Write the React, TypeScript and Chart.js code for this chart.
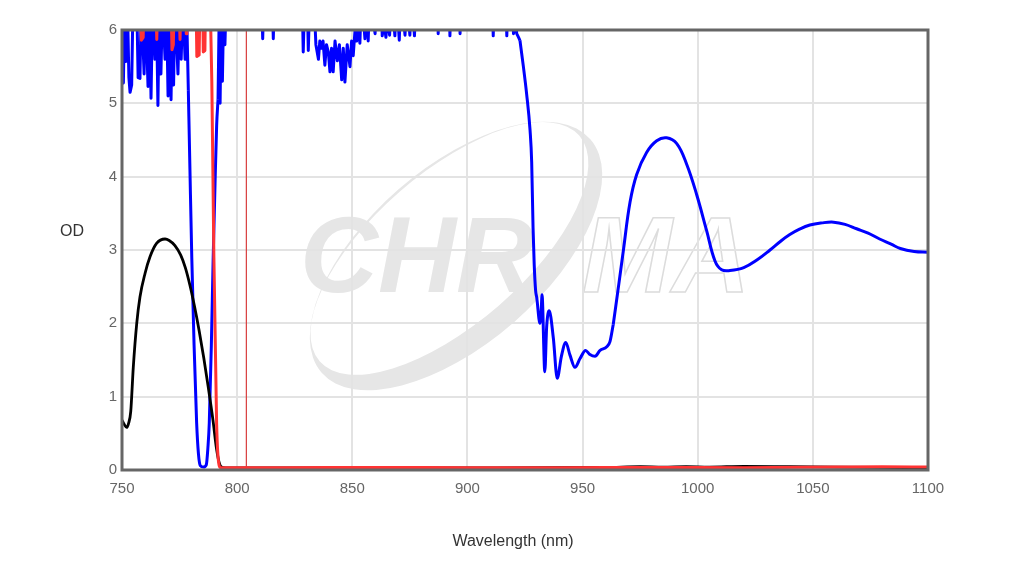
import React, { useEffect, useRef } from 'react';
import { Chart, registerables } from 'chart.js';

Chart.register(...registerables);

const xTickValues = [750, 800, 850, 900, 950, 1000, 1050, 1100];
const yTickValues = [0, 1, 2, 3, 4, 5, 6];
const xTitle = 'Wavelength (nm)';
const yTitle = 'OD';

const laserLine: [number, number][] = [[804, 0], [804, 6]];

const blackSeries: [number, number][] = [
  [750.0, 0.68], [751.0, 0.62], [752.0, 0.58], [752.8, 0.63], [753.8, 0.8], [754.9, 1.4],
  [756.4, 2.0], [757.8, 2.36], [760.0, 2.68], [762.2, 2.91], [765.0, 3.09], [768.7, 3.15],
  [770.5, 3.13], [773.0, 3.06], [775.5, 2.93], [777.5, 2.76], [779.5, 2.52], [781.5, 2.23],
  [783.5, 1.9], [785.5, 1.53], [787.5, 1.12], [789.5, 0.68], [791.0, 0.3], [792.2, 0.1],
  [793.2, 0.04], [795.0, 0.03], [850.0, 0.03], [900.0, 0.03], [960.0, 0.035], [975.0, 0.045],
  [985.0, 0.04], [995.0, 0.045], [1005.0, 0.04], [1020.0, 0.05], [1040.0, 0.045], [1060.0, 0.04],
  [1080.0, 0.035], [1100.0, 0.03],
];

const redNoise: [number, number][] = [
  [750.0, 6.5], [758.0, 6.5], [758.4, 5.86], [759.2, 5.9], [759.6, 6.5], [764.6, 6.5],
  [765.1, 5.87], [765.6, 6.5], [771.2, 6.5], [771.7, 5.73], [772.3, 5.8], [772.7, 6.5],
  [774.6, 6.5], [775.2, 5.87], [775.7, 6.5], [777.6, 6.5], [777.9, 5.95], [778.2, 6.5],
  [782.1, 6.5], [782.5, 5.64], [783.5, 5.66], [783.9, 6.5], [785.0, 6.5], [785.3, 5.7],
  [786.0, 5.72], [786.3, 6.5], [788.2, 6.5],
];

const redTail: [number, number][] = [
  [788.2, 6.5], [789.0, 5.3], [789.9, 2.9], [791.1, 0.62], [792.2, 0.06], [793.0, 0.03],
  [820.0, 0.03], [860.0, 0.035], [900.0, 0.03], [940.0, 0.03], [980.0, 0.035], [1020.0, 0.03],
  [1060.0, 0.04], [1080.0, 0.045], [1100.0, 0.04],
];

const blueNoiseLow: [number, number][] = [
  [750.0, 5.3], [750.6, 5.28], [751.2, 6.4], [751.7, 5.57], [752.3, 6.4], [753.0, 5.35],
  [753.5, 5.15], [754.2, 5.25], [754.8, 6.4], [756.4, 6.4], [757.0, 5.35], [757.8, 5.34],
  [758.4, 6.4], [759.6, 5.4], [760.2, 6.4], [761.3, 5.23], [761.9, 6.4], [762.6, 5.07],
  [763.3, 6.4], [764.3, 5.6], [764.9, 6.4], [765.6, 4.97], [766.2, 6.4], [766.9, 5.4],
  [767.6, 6.4], [768.7, 5.6], [769.3, 6.4], [770.0, 5.1], [770.6, 6.4], [771.3, 5.05],
  [771.9, 6.3], [772.4, 5.25], [773.0, 6.4], [774.3, 5.4], [775.0, 6.4], [775.7, 5.6],
  [776.4, 6.4], [777.4, 5.6], [778.1, 6.2], [778.8, 5.18],
];

const blueNotch: [number, number][] = [
  [778.8, 5.18], [779.5, 4.1], [780.3, 2.9], [781.3, 1.7], [782.4, 0.65], [783.2, 0.22],
  [784.0, 0.06], [785.4, 0.04], [786.6, 0.07], [787.3, 0.3], [787.9, 0.64], [788.8, 1.7],
  [789.6, 2.9], [790.4, 3.9], [791.1, 4.7], [791.7, 5.05],
];

const blueNoiseHigh: [number, number][] = [
  [791.7, 5.05], [792.2, 6.2], [792.6, 5.0], [793.1, 6.3], [793.6, 5.3], [794.2, 6.4],
  [794.7, 5.8], [795.3, 6.5], [810.6, 6.5], [811.1, 5.88], [811.6, 6.5], [815.2, 6.5],
  [815.7, 5.88], [816.2, 6.5], [828.2, 6.5], [828.7, 5.7], [829.4, 6.5], [830.4, 6.5],
  [830.9, 5.72], [831.6, 6.5], [833.5, 6.3], [834.2, 5.8], [835.3, 5.6], [835.9, 5.85],
  [836.6, 5.75], [837.3, 5.85], [838.1, 5.52], [838.8, 5.8], [839.6, 5.7], [840.3, 5.43],
  [841.0, 5.75], [841.7, 5.43], [842.5, 5.85], [843.5, 5.58], [844.4, 5.8], [845.4, 5.32],
  [846.1, 5.75], [846.8, 5.29], [847.8, 5.8], [849.0, 5.5], [849.7, 5.85], [850.4, 5.65],
  [851.2, 6.0], [851.9, 5.85], [852.6, 6.1], [853.3, 5.82], [854.0, 6.5], [855.5, 5.88],
  [856.2, 6.5], [856.9, 5.85], [857.6, 6.5], [859.9, 5.95], [860.5, 6.5], [862.5, 6.5],
  [863.0, 5.92], [863.8, 6.1], [864.6, 5.9], [865.4, 6.2], [866.2, 5.93], [867.0, 6.5],
  [868.5, 5.92], [869.2, 6.5], [870.4, 5.86], [871.1, 6.5], [872.9, 5.93], [873.6, 6.5],
  [875.0, 5.93], [875.7, 6.5], [877.0, 5.92], [877.7, 6.5], [887.0, 6.5], [887.3, 5.95],
  [887.8, 6.5], [892.0, 6.5], [892.4, 5.92], [892.9, 6.5], [896.4, 6.5], [896.8, 5.95],
  [897.3, 6.5], [910.8, 6.5], [911.2, 5.92], [911.7, 6.5], [916.6, 6.5], [917.1, 5.92],
  [917.6, 6.5], [919.5, 6.5], [920.0, 5.95], [920.6, 6.2], [921.4, 5.95], [922.2, 5.9],
  [922.8, 5.86],
];

const blueDrop: [number, number][] = [
  [922.8, 5.86], [924.3, 5.5], [925.7, 5.13], [927.2, 4.63], [927.9, 4.2], [928.5, 3.3],
  [929.0, 2.8], [929.6, 2.45], [930.1, 2.35], [931.5, 2.0], [932.0, 2.15], [932.4, 2.39],
  [933.6, 1.34], [934.4, 1.95], [935.5, 2.17], [937.3, 1.8], [939.0, 1.25], [940.8, 1.55],
  [942.7, 1.74], [944.5, 1.57], [946.7, 1.4], [948.9, 1.52], [951.3, 1.63], [953.0, 1.58],
  [955.4, 1.55], [957.6, 1.63], [960.5, 1.68], [961.9, 1.75], [963.3, 1.98],
];

const blueWave: [number, number][] = [
  [963.3, 1.98], [965.5, 2.48], [967.7, 2.99], [970.6, 3.65], [973.5, 4.03], [977.8, 4.33],
  [982.2, 4.49], [986.5, 4.53], [990.9, 4.45], [995.2, 4.17], [999.5, 3.76], [1003.9, 3.26],
  [1007.5, 2.85], [1010.4, 2.73], [1014.0, 2.72], [1020.0, 2.76], [1026.0, 2.87], [1031.4, 3.0],
  [1036.0, 3.12], [1040.0, 3.21], [1044.0, 3.28], [1048.7, 3.34], [1054.0, 3.37], [1059.0, 3.38],
  [1064.0, 3.35], [1069.0, 3.29], [1074.0, 3.23], [1079.0, 3.15], [1084.0, 3.08], [1088.0, 3.02],
  [1094.0, 2.98], [1100.0, 2.97],
];

const FONT = "'Liberation Sans', Arial, sans-serif";

const toPoints = (s: [number, number][]) => s.map(([x, y]) => ({ x, y }));

const decorPlugin = {
  id: 'decor',
  beforeDraw(chart: any) {
    const { ctx, chartArea: a } = chart;
    ctx.save();
    ctx.beginPath();
    ctx.rect(a.left, a.top, a.right - a.left, a.bottom - a.top);
    ctx.clip();
    const rot = (-41 * Math.PI) / 180;
    const cx = 456, cy = 256;
    const ux = -Math.sin(rot), uy = Math.cos(rot);
    const icx = cx - 10 * ux, icy = cy - 10 * uy;
    ctx.fillStyle = '#e6e6e6';
    ctx.beginPath();
    ctx.moveTo(cx + 178 * Math.cos(rot), cy + 178 * Math.sin(rot));
    ctx.ellipse(cx, cy, 178, 88, rot, 0, Math.PI * 2);
    ctx.moveTo(icx + 172 * Math.cos(rot), icy + 172 * Math.sin(rot));
    ctx.ellipse(icx, icy, 172, 75.5, rot, 0, Math.PI * 2);
    ctx.fill('evenodd');
    ctx.font = `italic bold 108px ${FONT}`;
    ctx.textBaseline = 'alphabetic';
    ctx.textAlign = 'left';
    ctx.fillText('CHR', 300, 292);
    ctx.strokeStyle = '#dcdcdc';
    ctx.lineWidth = 1.5;
    ctx.strokeText('MA', 582, 292);
    ctx.restore();
  },
  afterDatasetsDraw(chart: any) {
    const { ctx, chartArea: a } = chart;
    ctx.save();
    ctx.strokeStyle = '#666666';
    ctx.lineWidth = 3;
    ctx.strokeRect(a.left, a.top, a.right - a.left, a.bottom - a.top);
    ctx.restore();
  },
  afterDraw(chart: any) {
    const { ctx } = chart;
    ctx.save();
    ctx.font = `16px ${FONT}`;
    ctx.fillStyle = '#333333';
    ctx.textAlign = 'center';
    ctx.textBaseline = 'middle';
    ctx.fillText(yTitle, 72, 232);
    ctx.fillText(xTitle, 513, 542);
    ctx.restore();
  },
};

export default function App() {
  const ref = useRef<HTMLCanvasElement | null>(null);
  useEffect(() => {
    if (!ref.current) return;
    const line = (data: [number, number][], color: string, width: number, mode: 'sharp' | 'monotone' | 'spline') => ({
      data: toPoints(data),
      borderColor: color,
      backgroundColor: color,
      borderWidth: width,
      pointRadius: 0,
      fill: false,
      cubicInterpolationMode: mode === 'monotone' ? 'monotone' : 'default',
      tension: mode === 'sharp' ? 0 : 0.4,
      borderJoinStyle: 'round',
    });
    const RED = '#ff3333';
    const BLUE = '#0000ff';
    const chart = new Chart(ref.current, {
      type: 'line',
      data: {
        datasets: [
          line(redNoise, RED, 3, 'sharp'),
          line(redTail, RED, 3, 'monotone'),
          line(laserLine, '#d83c3c', 1.2, 'sharp'),
          line(blackSeries, '#000000', 2.8, 'monotone'),
          line(blueNoiseLow, BLUE, 3, 'sharp'),
          line(blueNotch, BLUE, 3, 'monotone'),
          line(blueNoiseHigh, BLUE, 3, 'sharp'),
          line(blueDrop, BLUE, 3, 'monotone'),
          line(blueWave, BLUE, 3, 'spline'),
        ] as any,
      },
      options: {
        animation: false,
        responsive: false,
        devicePixelRatio: 1,
        layout: { padding: { left: 0, right: 97, top: 30, bottom: 0 } },
        plugins: { legend: { display: false }, tooltip: { enabled: false } },
        scales: {
          x: {
            type: 'linear',
            min: 750,
            max: 1100,
            afterBuildTicks: (scale: any) => {
              scale.ticks = xTickValues.map((v) => ({ value: v }));
            },
            afterFit: (scale: any) => {
              scale.height = 91;
            },
            grid: { color: '#e3e3e3', lineWidth: 2, drawTicks: false },
            border: { display: false },
            ticks: {
              color: '#666666',
              padding: 10,
              font: { family: FONT, size: 15 },
              maxRotation: 0,
              callback: (v: any) => String(v),
            },
          },
          y: {
            type: 'linear',
            min: 0,
            max: 6,
            afterBuildTicks: (scale: any) => {
              scale.ticks = yTickValues.map((v) => ({ value: v }));
            },
            afterFit: (scale: any) => {
              scale.width = 122;
            },
            grid: { color: '#e3e3e3', lineWidth: 2, drawTicks: false },
            border: { display: false },
            ticks: {
              color: '#666666',
              padding: 5,
              font: { family: FONT, size: 15 },
              callback: (v: any) => String(v),
            },
          },
        },
      } as any,
      plugins: [decorPlugin],
    });
    return () => chart.destroy();
  }, []);
  return (
    <div style={{ position: 'fixed', left: 0, top: 0, width: 1025, height: 561, background: '#fff' }}>
      <canvas ref={ref} width={1025} height={561} />
    </div>
  );
}
